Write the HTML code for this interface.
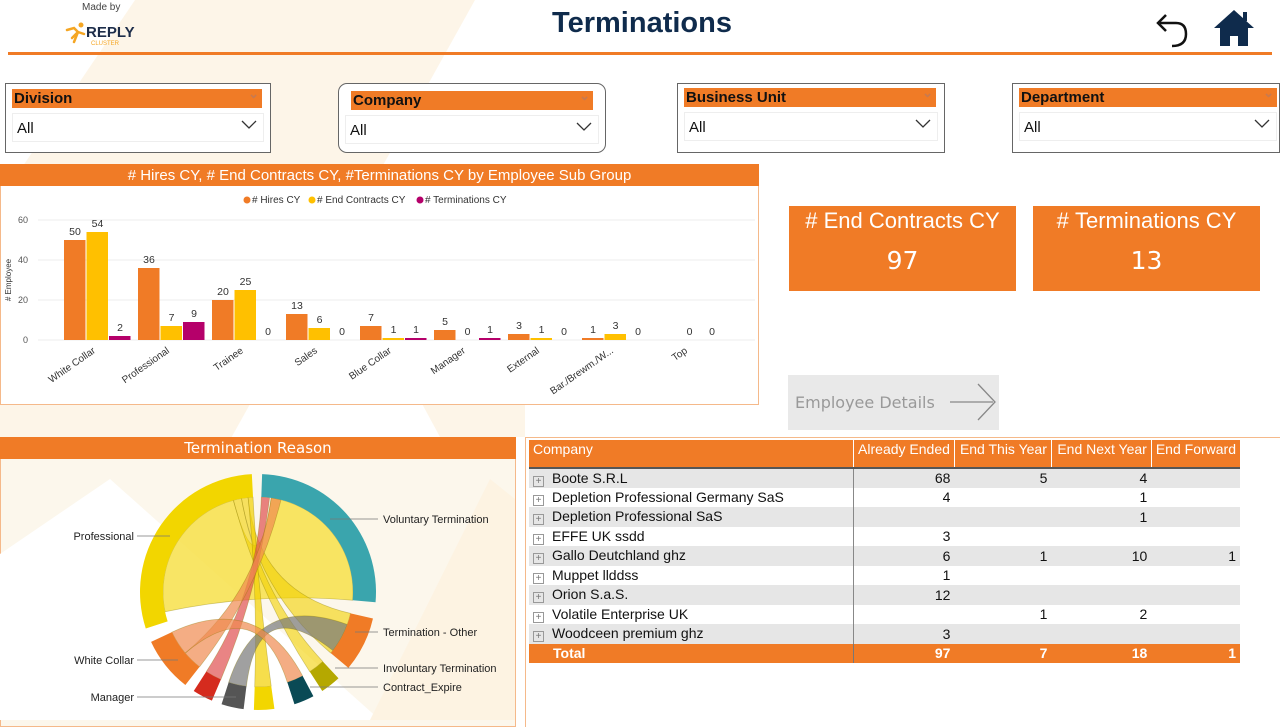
<!DOCTYPE html>
<html><head><meta charset="utf-8">
<style>
*{margin:0;padding:0;box-sizing:border-box}
body{width:1280px;height:720px;position:relative;overflow:hidden;background:#fff;font-family:"Liberation Sans",Arial,sans-serif}
.abs{position:absolute}
.slicer{position:absolute;border:1px solid #666;background:#fff}
.slicer .h{position:absolute;left:6px;right:8px;top:5px;height:19px;background:#f07b26;font-weight:bold;font-size:15px;color:#111;padding-left:2px;line-height:19px}
.slicer .h:after{content:"⌄";position:absolute;right:3px;top:-5px;color:#c87a50;font-size:13px}
.slicer .d{position:absolute;left:6px;right:6px;top:29px;height:29px;border:1px solid #eee;background:#fff;font-size:15px;padding-left:4px;line-height:29px;color:#111}
.chev{position:absolute;right:6px;top:6px;width:16px;height:10px}
.kpi{position:absolute;background:#f07b26;color:#fff;text-align:center}
table{border-collapse:collapse;font-size:14px;color:#111}
td{height:19.5px;padding:0 4px;white-space:nowrap}
</style></head><body>
<svg class="abs" style="left:0;top:0" width="1280" height="720">
<polygon points="135,0 475,0 230,440 0,440 0,200" fill="#fdf5e8"/>
<polygon points="420,400 525,400 525,437 440,437" fill="#fdf5e8"/>
</svg>
<!-- header -->
<div class="abs" style="left:82px;top:2px;font-size:10px;color:#444">Made by</div>
<svg class="abs" style="left:64px;top:20px" width="80" height="28">
<path d="M3,10 L10,8 L14,12 L8,18 M14,12 L10,22 M14,12 L20,14" stroke="#f5a623" stroke-width="2.5" fill="none" stroke-linecap="round"/>
<circle cx="17" cy="5" r="2.5" fill="#f5a623"/>
<text x="22" y="17" font-family="Liberation Sans" font-weight="bold" font-size="15" fill="#1d2d4a">REPLY</text>
<text x="27" y="25" font-family="Liberation Sans" font-size="6" fill="#f5a623">CLUSTER</text>
</svg>
<div class="abs" style="left:0;width:1284px;top:7px;text-align:center;font-size:29px;font-weight:bold;color:#0f2b4c">Terminations</div>
<svg class="abs" style="left:1150px;top:6px" width="110" height="44">
<path d="M10,17 L26,17 Q36,17 36,28 Q36,40 22,40" stroke="#111" stroke-width="2.5" fill="none"/>
<path d="M16,9 L8,17 L16,25" stroke="#111" stroke-width="2.5" fill="none"/>
<path d="M84,4 L64,22 L70,22 L70,40 L80,40 L80,30 L88,30 L88,40 L98,40 L98,22 L104,22 Z" fill="#0f2b4c"/>
<rect x="93" y="6" width="4" height="9" fill="#0f2b4c"/>
</svg>
<div class="abs" style="left:8px;top:52px;width:1264px;height:3px;background:#f07b26"></div>
<!-- slicers -->
<div class="slicer" style="left:5px;top:83px;width:266px;height:70px"><div class="h">Division</div><div class="d">All<svg class="chev" viewBox="0 0 16 10"><path d="M1,1 L8,8 L15,1" stroke="#333" fill="none" stroke-width="1.3"/></svg></div></div>
<div class="slicer" style="left:338px;top:83px;width:268px;height:70px;border-radius:9px"><div class="h" style="top:7px;left:12px;right:12px">Company</div><div class="d" style="top:31px">All<svg class="chev" viewBox="0 0 16 10"><path d="M1,1 L8,8 L15,1" stroke="#333" fill="none" stroke-width="1.3"/></svg></div></div>
<div class="slicer" style="left:677px;top:83px;width:268px;height:70px"><div class="h" style="top:4px">Business Unit</div><div class="d" style="top:28px">All<svg class="chev" viewBox="0 0 16 10"><path d="M1,1 L8,8 L15,1" stroke="#333" fill="none" stroke-width="1.3"/></svg></div></div>
<div class="slicer" style="left:1012px;top:83px;width:268px;height:70px"><div class="h" style="top:4px;right:2px">Department</div><div class="d" style="top:28px;right:2px">All<svg class="chev" viewBox="0 0 16 10"><path d="M1,1 L8,8 L15,1" stroke="#333" fill="none" stroke-width="1.3"/></svg></div></div>
<!-- bar chart -->
<div class="abs" style="left:0;top:164px;width:759px;height:241px;border:1px solid #f5b98a;background:#fff"></div>
<div class="abs" style="left:0;top:164px;width:759px;height:22px;background:#f07b26;color:#fff;font-size:15px;text-align:center;line-height:23px">
# Hires CY, # End Contracts CY, #Terminations CY by Employee Sub Group</div>
<svg class="abs" style="left:0;top:0" width="760" height="410" font-family="Liberation Sans" font-size="10.5">
<g font-size="10" fill="#333">
<circle cx="247" cy="200" r="3.5" fill="#f07b26"/><text x="252" y="203"># Hires CY</text>
<circle cx="312" cy="200" r="3.5" fill="#ffc000"/><text x="317" y="203"># End Contracts CY</text>
<circle cx="420" cy="200" r="3.5" fill="#b5006a"/><text x="425" y="203"># Terminations CY</text>
</g>
<g stroke="#eee"><line x1="38" y1="220" x2="755" y2="220"/><line x1="38" y1="260" x2="755" y2="260"/><line x1="38" y1="300" x2="755" y2="300"/><line x1="38" y1="340" x2="755" y2="340"/></g>
<g fill="#555" font-size="9" text-anchor="end"><text x="28" y="223">60</text><text x="28" y="263">40</text><text x="28" y="303">20</text><text x="28" y="343">0</text></g>
<text transform="translate(11,280) rotate(-90)" font-size="8" fill="#333" text-anchor="middle"># Employee</text>
<g id="bars"></g>
</svg>
<!-- KPIs -->
<div class="kpi" style="left:789px;top:206px;width:227px;height:85px"><div style="font-size:22px;margin-top:2px">#&nbsp;End Contracts CY</div><div style="font-size:25px;margin-top:12px;font-family:'DejaVu Sans',sans-serif">97</div></div>
<div class="kpi" style="left:1033px;top:206px;width:227px;height:85px"><div style="font-size:22px;margin-top:2px">#&nbsp;Terminations CY</div><div style="font-size:25px;margin-top:12px;font-family:'DejaVu Sans',sans-serif">13</div></div>
<div class="abs" style="left:788px;top:375px;width:211px;height:55px;background:#e9e9e9;color:#999;font-size:16px;font-family:'DejaVu Sans',sans-serif;line-height:55px;padding-left:7px">Employee Details</div>
<svg class="abs" style="left:945px;top:380px" width="55" height="48"><path d="M5,22 L48,22 M33,4 L50,22 L33,40" stroke="#888" stroke-width="1.3" fill="none"/></svg>
<!-- chord panel -->
<div class="abs" style="left:0;top:437px;width:516px;height:290px;border:1px solid #f5b98a;background:#fcf7ec"></div>
<svg class="abs" style="left:0;top:459px" width="515" height="261"><polygon points="0,95 110,20 380,261 0,261" fill="#fff"/><polygon points="490,20 515,40 515,261 370,261" fill="#fdf3e2"/></svg>
<div class="abs" style="left:0;top:437px;width:516px;height:22px;background:#f07b26;color:#fff;font-size:15px;text-align:center;line-height:23px;font-family:'DejaVu Sans',sans-serif">Termination Reason</div>
<svg class="abs" style="left:0;top:0" width="520" height="720" id="chord" font-family="Liberation Sans" font-size="11" fill="#222"></svg>
<!-- table panel -->
<div class="abs" style="left:525px;top:437px;width:760px;height:290px;border-top:1px solid #f5b98a;border-left:1px solid #f5b98a;background:#fff"></div>
<table class="abs" style="left:529px;top:440px;width:711px">
<tr style="background:#f07b26;color:#fff;height:28px"><td style="width:326px;vertical-align:top;padding-top:1px;border-bottom:2px solid #555">Company</td><td style="width:100px;text-align:right;vertical-align:top;padding-top:1px;border-left:1px solid #fff;border-bottom:2px solid #555">Already Ended</td><td style="width:97px;text-align:right;vertical-align:top;padding-top:1px;border-left:1px solid #fff;border-bottom:2px solid #555">End This Year</td><td style="width:100px;text-align:right;vertical-align:top;padding-top:1px;border-left:1px solid #fff;border-bottom:2px solid #555">End Next Year</td><td style="text-align:right;vertical-align:top;padding-top:1px;border-left:1px solid #fff;border-bottom:2px solid #555">End Forward</td></tr>
<tbody id="tb"></tbody>
<tr style="background:#f07b26;color:#fff;font-weight:bold"><td style="padding-left:24px">Total</td><td style="text-align:right;border-left:1px solid #777">97</td><td style="text-align:right">7</td><td style="text-align:right">18</td><td style="text-align:right">1</td></tr>
</table>
<script>
var cats=["White Collar","Professional","Trainee","Sales","Blue Collar","Manager","External","Bar./Brewm./W...","Top"];
var h=[50,36,20,13,7,5,3,1,null],e=[54,7,25,6,1,0,1,3,0],t=[2,9,0,0,1,1,0,0,0];
var cols=["#f07b26","#ffc000","#b5006a"],s="";
for(var i=0;i<9;i++){var x0=64+74*i;[h,e,t].forEach(function(a,k){var v=a[i];if(v===null)return;var x=x0+k*22.5;
if(v>0)s+='<rect x="'+x+'" y="'+(340-2*v)+'" width="21.5" height="'+(2*v)+'" fill="'+cols[k]+'"/>';
s+='<text x="'+(x+11)+'" y="'+(340-2*v-5)+'" text-anchor="middle" fill="#333">'+v+'</text>';});
s+='<text transform="translate('+(x0+32)+',352) rotate(-35)" text-anchor="end" fill="#333" font-size="10">'+cats[i]+'</text>';}
document.getElementById("bars").innerHTML=s;
var rows=[["Boote S.R.L","68","5","4",""],["Depletion Professional Germany SaS","4","","1",""],["Depletion Professional SaS","","","1",""],["EFFE UK ssdd","3","","",""],["Gallo Deutchland ghz","6","1","10","1"],["Muppet llddss","1","","",""],["Orion S.a.S.","12","","",""],["Volatile Enterprise UK","","1","2",""],["Woodceen premium ghz","3","","",""]];
var tb="";rows.forEach(function(r,i){tb+='<tr style="background:'+(i%2?'#fff':'#e6e6e6')+'"><td><span style="display:inline-block;width:11px;height:11px;border:1px solid #999;font-size:10px;line-height:9px;text-align:center;color:#777;margin-right:8px;vertical-align:-1px">+</span>'+r[0]+'</td><td style="text-align:right;border-left:1px solid #888">'+r[1]+'</td><td style="text-align:right">'+r[2]+'</td><td style="text-align:right">'+r[3]+'</td><td style="text-align:right">'+r[4]+'</td></tr>';});
document.getElementById("tb").innerHTML=tb;
var cx=258,cy=592,R=118,r=95;
function P(a,rr){a=a*Math.PI/180;return [cx+rr*Math.sin(a),cy-rr*Math.cos(a)];}
function arc(a1,a2,c){var p1=P(a1,R),p2=P(a2,R),p3=P(a2,r),p4=P(a1,r),l=(a2-a1)>180?1:0;
return '<path d="M'+p1+' A'+R+','+R+' 0 '+l+' 1 '+p2+' L'+p3+' A'+r+','+r+' 0 '+l+' 0 '+p4+' Z" fill="'+c+'"/>';}
function rib(a1,a2,b1,b2,c,op){var p1=P(a1,r),p2=P(a2,r),q1=P(b1,r),q2=P(b2,r);
return '<path d="M'+p1+' A'+r+','+r+' 0 0 1 '+p2+' Q'+cx+','+cy+' '+q1+' A'+r+','+r+' 0 0 1 '+q2+' Q'+cx+','+cy+' '+p1+'Z" fill="'+c+'" fill-opacity="'+op+'" stroke="#8a7a00" stroke-opacity="0.4" stroke-width="0.7"/>';}
var g="";
g+=rib(258,345,8,95,"#f7e04a",0.85);
g+=rib(345,350,137,147,"#f2d000",0.6);
g+=rib(350,354,103,130,"#f2d000",0.6);
g+=rib(354,357,172,182,"#f2d000",0.7);
g+=rib(2,7,203,213,"#e05050",0.7);
g+=rib(8,14,218,230,"#f08a50",0.7);
g+=rib(110,128,187,198,"#777",0.7);
g+=rib(230,245,152,162,"#f08a50",0.7);
var arcs=[[252,357,"#f2d600"],[2,95,"#3aa5ad"],[103,130,"#f07b26"],[137,147,"#b5a800"],[152,162,"#0a4a55"],[172,182,"#f2d600"],[187,198,"#555"],[203,213,"#d52b1e"],[218,245,"#f07b26"]];
arcs.forEach(function(a){g+=arc(a[0],a[1],a[2]);});
var L=[["Professional",134,540,170,"end"],["White Collar",134,664,178,"end"],["Manager",134,701,236,"end"],["Voluntary Termination",383,523,330,"start"],["Termination - Other",383,636,355,"start"],["Involuntary Termination",383,672,335,"start"],["Contract_Expire",383,691,310,"start"]];
L.forEach(function(l){g+='<line x1="'+(l[4]=="end"?l[1]+3:l[3])+'" y1="'+(l[2]-4)+'" x2="'+(l[4]=="end"?l[3]:l[1]-5)+'" y2="'+(l[2]-4)+'" stroke="#777" stroke-width="0.8"/><text x="'+l[1]+'" y="'+l[2]+'" text-anchor="'+l[4]+'">'+l[0]+'</text>';});
document.getElementById("chord").innerHTML=g;
</script>
</body></html>
